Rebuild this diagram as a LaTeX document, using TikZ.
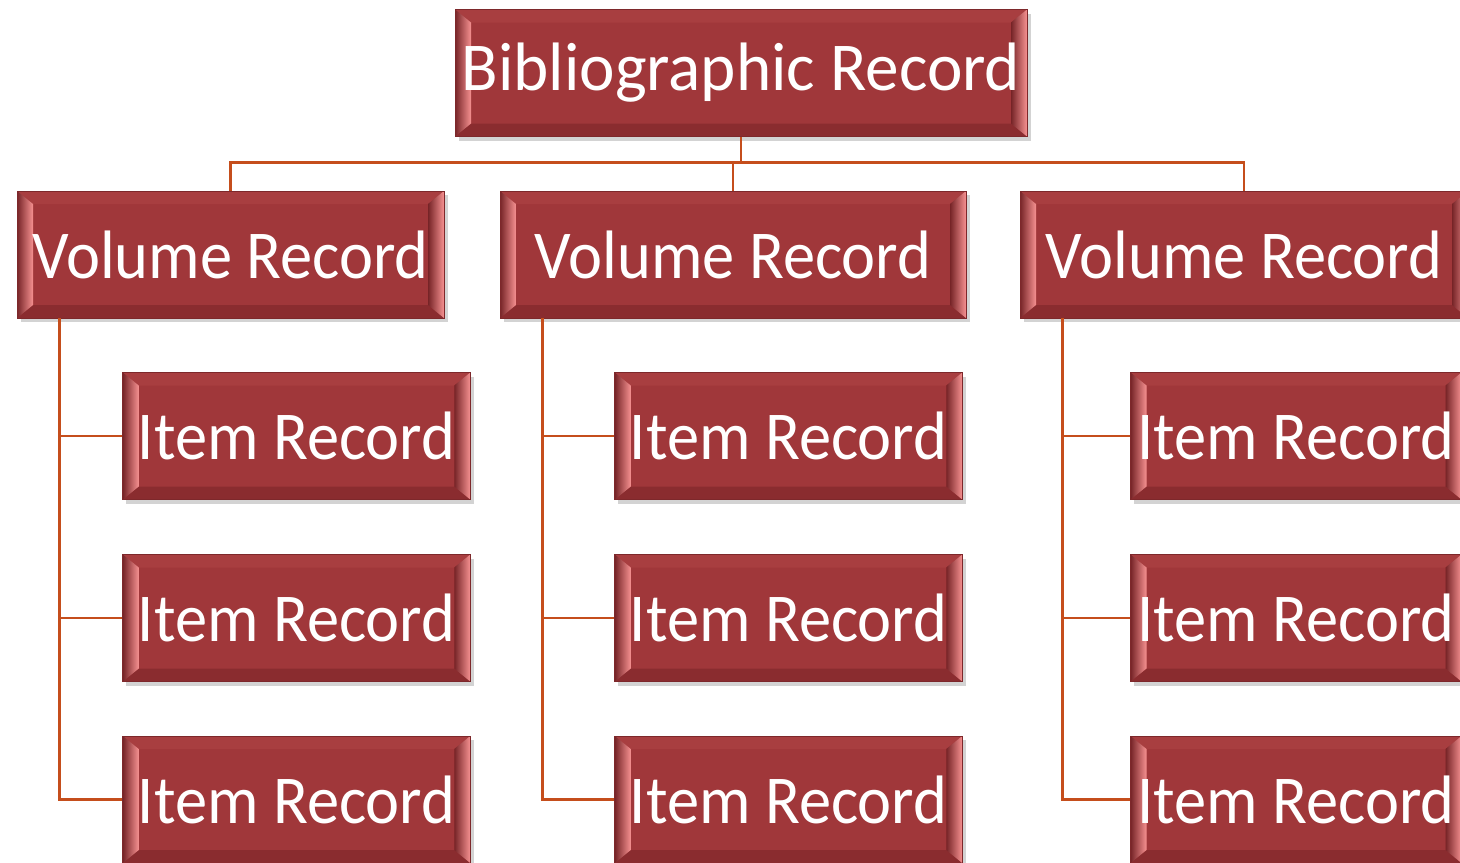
\documentclass[tikz,border=0pt]{standalone}
\usepackage{fontspec}
\setmainfont{Carlito}
\usepackage{graphicx}
\usepackage{tikz}
\usetikzlibrary{calc, shadows}
\definecolor{recface}{RGB}{160,55,58}
\definecolor{recedge}{RGB}{125,40,43}
\definecolor{bevdark}{RGB}{118,36,39}
\definecolor{bevpink}{RGB}{246,145,145}
\definecolor{bevtop}{RGB}{168,62,64}
\definecolor{bevbot}{RGB}{138,44,47}
\definecolor{linkred}{RGB}{197,78,28}
\newcommand{\narrow}[2][0.94]{\scalebox{#1}[1]{#2}}
\tikzset{
    rec/.style={draw=recedge, fill=recface, text=white, inner sep=0pt, minimum height=2.54cm,
        font=\fontsize{39}{39}\selectfont,
        drop shadow={shadow xshift=2pt, shadow yshift=-2.5pt, opacity=0.35},
        path picture={
            \path (path picture bounding box.south west) coordinate (bsw)
                  (path picture bounding box.north east) coordinate (bne);
            \fill[bevtop] (bsw |- bne) -- (bne) -- ($(bne)+(-0.32,-0.26)$) -- ($(bsw |- bne)+(0.32,-0.26)$) -- cycle;
            \fill[bevbot] (bsw) -- (bsw -| bne) -- ($(bsw -| bne)+(-0.32,0.26)$) -- ($(bsw)+(0.32,0.26)$) -- cycle;
            \shade[left color=bevdark, middle color=recface, right color=bevpink]
                (bsw) -- (bsw |- bne) -- ($(bsw |- bne)+(0.32,-0.26)$) -- ($(bsw)+(0.32,0.26)$) -- cycle;
            \shade[left color=bevdark, middle color=bevdark, right color=bevpink]
                (bne) -- (bsw -| bne) -- ($(bsw -| bne)+(-0.32,0.26)$) -- ($(bne)+(-0.32,-0.26)$) -- cycle;
        }},
    bibbox/.style={rec, minimum width=11.44cm},
    volbox/.style={rec, minimum width=8.9cm},
    itembox/.style={rec, minimum width=6.95cm},
    link/.style={draw=linkred, line width=1.6pt}
}
\begin{document}
\begin{tikzpicture}
    \useasboundingbox (0,0) rectangle (29.2,-17.26);
    \node[bibbox] (bib) at (14.82,-1.46) {\narrow[0.98]{Bibliographic Record}};
    \node[volbox, minimum width=8.54cm] (vol1) at (4.61,-5.09) {\narrow{Volume Record}};
    \node[volbox, minimum width=9.32cm] (vol2) at (14.66,-5.09) {\narrow{Volume Record}};
    \node[volbox, minimum width=8.96cm] (vol3) at (24.88,-5.09) {\narrow{Volume Record}};
    % items, three per volume
    \foreach \col/\xx/\ww in {1/5.93/6.95, 2/15.77/6.95, 3/25.92/6.62}
        \foreach \row/\yy in {1/-8.72, 2/-12.36, 3/-15.99}
            \node[itembox, minimum width=\ww cm] (item\col\row) at (\xx,\yy) {\narrow{Item Record}};
    % connectors
    \draw[link] (bib.south) -- ++(0,-0.52) coordinate (hub);
    \foreach \v in {vol1, vol2, vol3}
        \draw[link] (hub) -| (\v.north);
    \foreach \col in {1,2,3} {
        \coordinate (sp\col) at ($(vol\col.south west)+(0.86,0)$);
        \foreach \row in {1,2,3}
            \draw[link] (sp\col) |- (item\col\row.west);
    }
\end{tikzpicture}
\end{document}
